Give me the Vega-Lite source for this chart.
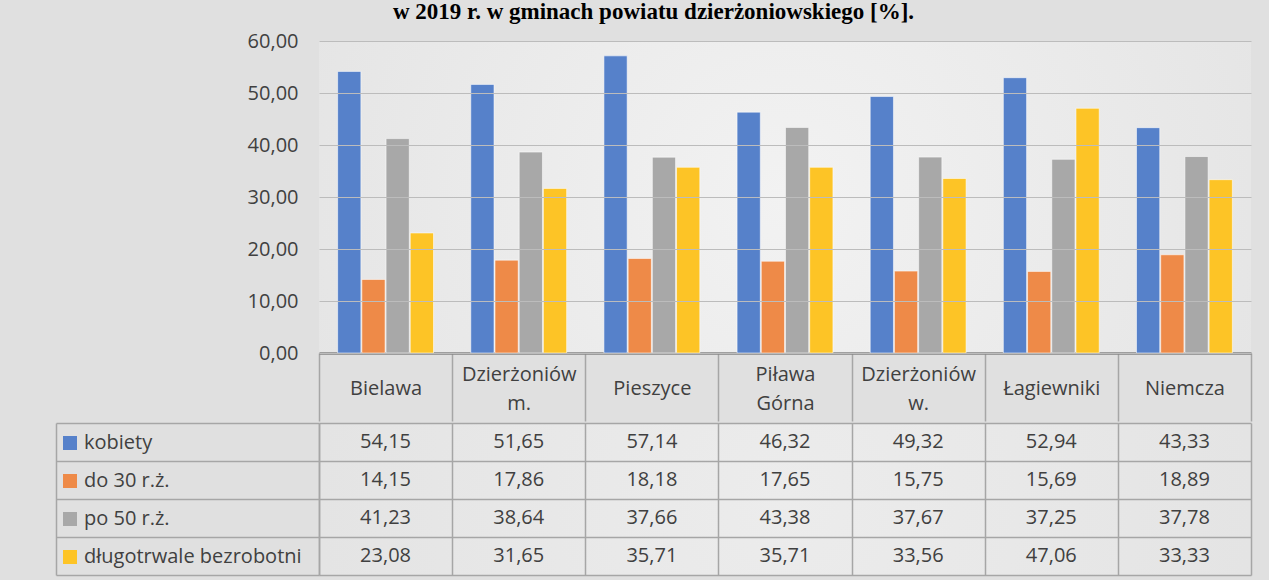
{
  "$schema": "https://vega.github.io/schema/vega-lite/v6.json",
  "background": "#e0e0e0",
  "padding": {"left": 55, "top": 1, "right": 19, "bottom": 6},
  "autosize": {"type": "pad"},
  "title": {
    "text": "w 2019 r. w gminach powiatu dzierżoniowskiego [%].",
    "font": "Liberation Serif",
    "fontSize": 23,
    "fontWeight": "bold",
    "color": "#000000",
    "anchor": "middle",
    "offset": 7
  },
  "datasets": {
    "bezrobotni": [
      {"gmina": "Bielawa", "grupa": "kobiety", "wartosc": 54.15},
      {"gmina": "Dzierżoniów m.", "grupa": "kobiety", "wartosc": 51.65},
      {"gmina": "Pieszyce", "grupa": "kobiety", "wartosc": 57.14},
      {"gmina": "Piława Górna", "grupa": "kobiety", "wartosc": 46.32},
      {"gmina": "Dzierżoniów w.", "grupa": "kobiety", "wartosc": 49.32},
      {"gmina": "Łagiewniki", "grupa": "kobiety", "wartosc": 52.94},
      {"gmina": "Niemcza", "grupa": "kobiety", "wartosc": 43.33},
      {"gmina": "Bielawa", "grupa": "do 30 r.ż.", "wartosc": 14.15},
      {"gmina": "Dzierżoniów m.", "grupa": "do 30 r.ż.", "wartosc": 17.86},
      {"gmina": "Pieszyce", "grupa": "do 30 r.ż.", "wartosc": 18.18},
      {"gmina": "Piława Górna", "grupa": "do 30 r.ż.", "wartosc": 17.65},
      {"gmina": "Dzierżoniów w.", "grupa": "do 30 r.ż.", "wartosc": 15.75},
      {"gmina": "Łagiewniki", "grupa": "do 30 r.ż.", "wartosc": 15.69},
      {"gmina": "Niemcza", "grupa": "do 30 r.ż.", "wartosc": 18.89},
      {"gmina": "Bielawa", "grupa": "po  50 r.ż.", "wartosc": 41.23},
      {"gmina": "Dzierżoniów m.", "grupa": "po  50 r.ż.", "wartosc": 38.64},
      {"gmina": "Pieszyce", "grupa": "po  50 r.ż.", "wartosc": 37.66},
      {"gmina": "Piława Górna", "grupa": "po  50 r.ż.", "wartosc": 43.38},
      {"gmina": "Dzierżoniów w.", "grupa": "po  50 r.ż.", "wartosc": 37.67},
      {"gmina": "Łagiewniki", "grupa": "po  50 r.ż.", "wartosc": 37.25},
      {"gmina": "Niemcza", "grupa": "po  50 r.ż.", "wartosc": 37.78},
      {"gmina": "Bielawa", "grupa": "długotrwale bezrobotni", "wartosc": 23.08},
      {"gmina": "Dzierżoniów m.", "grupa": "długotrwale bezrobotni", "wartosc": 31.65},
      {"gmina": "Pieszyce", "grupa": "długotrwale bezrobotni", "wartosc": 35.71},
      {"gmina": "Piława Górna", "grupa": "długotrwale bezrobotni", "wartosc": 35.71},
      {"gmina": "Dzierżoniów w.", "grupa": "długotrwale bezrobotni", "wartosc": 33.56},
      {"gmina": "Łagiewniki", "grupa": "długotrwale bezrobotni", "wartosc": 47.06},
      {"gmina": "Niemcza", "grupa": "długotrwale bezrobotni", "wartosc": 33.33}
    ]
  },
  "data": {"name": "bezrobotni"},
  "spacing": 0,
  "vconcat": [
    {
      "width": 932,
      "height": 312,
      "view": {
        "stroke": null,
        "fill": {
          "gradient": "radial",
          "x1": 0.5, "y1": 0.5, "r1": 0,
          "x2": 0.5, "y2": 0.5, "r2": 0.75,
          "stops": [
            {"offset": 0, "color": "#f2f2f2"},
            {"offset": 1, "color": "#e0e0e0"}
          ]
        }
      },
      "mark": {"type": "bar", "stroke": "#ffffff", "strokeOpacity": 0.55, "strokeWidth": 1},
      "encoding": {
        "x": {
          "field": "gmina",
          "type": "nominal",
          "sort": ["Bielawa", "Dzierżoniów m.", "Pieszyce", "Piława Górna", "Dzierżoniów w.", "Łagiewniki", "Niemcza"],
          "scale": {"paddingInner": 0, "paddingOuter": 0},
          "title": null,
          "axis": {
            "orient": "bottom",
            "labelExpr": "indexof(datum.label, ' ') > 0 ? [split(datum.label, ' ')[0], '\u200b', split(datum.label, ' ')[1]] : ['\u200b', datum.label]",
            "labelAngle": 0,
            "labelBaseline": "middle",
            "labelPadding": -47,
            "labelLineHeight": 14.5,
            "labelFontSize": 20,
            "labelColor": "#404040",
            "labelOverlap": false,
            "labelFlush": false,
            "labelBound": false,
            "labelLimit": 200,
            "tickBand": "extent",
            "tickSize": 68,
            "tickColor": "#a6a6a6",
            "tickWidth": 1.5,
            "domainColor": "#868686",
            "domainWidth": 2.5,
            "grid": false
          }
        },
        "xOffset": {
          "field": "grupa",
          "type": "nominal",
          "sort": ["kobiety", "do 30 r.ż.", "po  50 r.ż.", "długotrwale bezrobotni"],
          "scale": {"paddingInner": 0.04, "paddingOuter": 0.77}
        },
        "y": {
          "field": "wartosc",
          "type": "quantitative",
          "scale": {"domain": [0, 60]},
          "title": null,
          "axis": {
            "values": [0, 10, 20, 30, 40, 50, 60],
            "format": ".2f",
            "domain": false,
            "ticks": false,
            "labelPadding": 21,
            "labelFontSize": 20,
            "labelColor": "#404040",
            "gridColor": "#bcbcbc",
            "gridWidth": 1.2,
            "zindex": 1
          }
        },
        "color": {
          "field": "grupa",
          "type": "nominal",
          "scale": {
            "domain": ["kobiety", "do 30 r.ż.", "po  50 r.ż.", "długotrwale bezrobotni"],
            "range": ["#5681ca", "#ee8a48", "#a8a8a8", "#fdc426"]
          },
          "legend": {
            "orient": "none",
            "legendX": -259,
            "legendY": 392,
            "title": null,
            "direction": "vertical",
            "symbolType": "square",
            "symbolSize": 196,
            "symbolStrokeWidth": 0,
            "symbolOpacity": 1,
            "labelFontSize": 20,
            "labelColor": "#404040",
            "labelOffset": 4,
            "labelLimit": 300,
            "rowPadding": 18,
            "padding": 0
          }
        }
      }
    },
    {
      "width": 932,
      "height": 152,
      "view": {
        "stroke": null,
        "fill": {
          "gradient": "radial",
          "x1": 0.5, "y1": 0.5, "r1": 0,
          "x2": 0.5, "y2": 0.5, "r2": 0.75,
          "stops": [
            {"offset": 0, "color": "#ececec"},
            {"offset": 1, "color": "#e0e0e0"}
          ]
        }
      },
      "layer": [
        {
          "mark": {"type": "text", "fontSize": 20, "color": "#404040", "align": "center", "baseline": "middle"},
          "encoding": {
            "x": {
              "field": "gmina",
              "type": "nominal",
              "sort": ["Bielawa", "Dzierżoniów m.", "Pieszyce", "Piława Górna", "Dzierżoniów w.", "Łagiewniki", "Niemcza"],
              "scale": {"paddingInner": 0, "paddingOuter": 0},
              "title": null,
              "axis": {
                "labels": false,
                "ticks": false,
                "domain": false,
                "grid": true,
                "tickBand": "extent",
                "gridColor": "#a6a6a6",
                "gridWidth": 1.5
              }
            },
            "y": {
              "field": "grupa",
              "type": "nominal",
              "sort": ["kobiety", "do 30 r.ż.", "po  50 r.ż.", "długotrwale bezrobotni"],
              "scale": {"paddingInner": 0, "paddingOuter": 0},
              "title": null,
              "axis": {
                "labels": false,
                "ticks": true,
                "tickSize": 263,
                "tickBand": "extent",
                "tickColor": "#a6a6a6",
                "tickWidth": 1.5,
                "domain": true,
                "domainColor": "#a6a6a6",
                "domainWidth": 1.5,
                "grid": true,
                "gridColor": "#a6a6a6",
                "gridWidth": 1.5
              }
            },
            "text": {"field": "wartosc", "type": "quantitative", "format": ".2f"}
          }
        },
        {
          "mark": {"type": "text", "text": ""},
          "encoding": {
            "y": {
              "field": "grupa",
              "type": "nominal",
              "sort": ["kobiety", "do 30 r.ż.", "po  50 r.ż.", "długotrwale bezrobotni"],
              "scale": {"paddingInner": 0, "paddingOuter": 0},
              "title": null,
              "axis": {
                "orient": "left",
                "offset": 263,
                "labels": false,
                "ticks": false,
                "grid": false,
                "domain": true,
                "domainColor": "#a6a6a6",
                "domainWidth": 1.5
              }
            }
          }
        }
      ],
      "resolve": {"scale": {"y": "independent"}, "axis": {"y": "independent"}}
    }
  ],
  "config": {
    "font": "Open Sans",
    "view": {"stroke": null},
    "locale": {
      "number": {"decimal": ",", "thousands": " ", "grouping": [3], "currency": ["", " zł"]}
    }
  }
}
